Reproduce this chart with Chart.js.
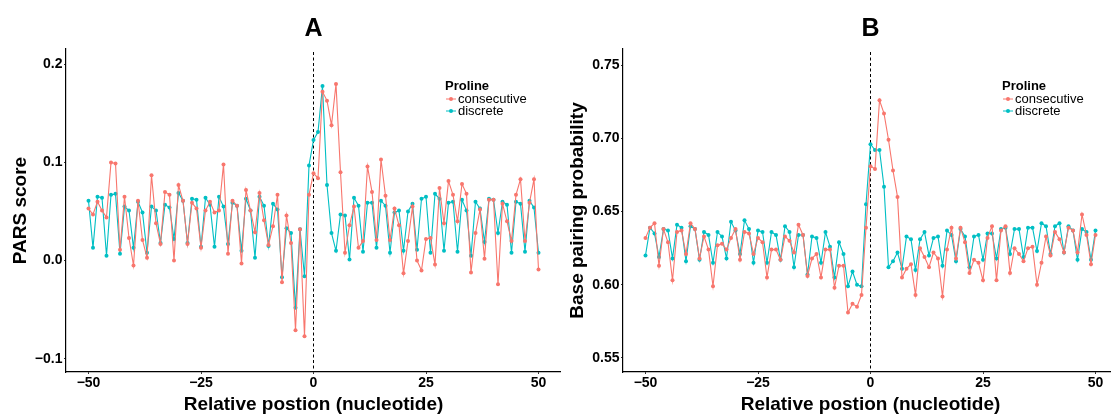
<!DOCTYPE html>
<html>
<head>
<meta charset="utf-8">
<script src="https://cdn.jsdelivr.net/npm/chart.js@4.4.1/dist/chart.umd.min.js"></script>
<style>
  html, body { margin: 0; padding: 0; background: #fff; width: 1111px; height: 414px; overflow: hidden; }
  .panel { position: absolute; top: 0; width: 561px; height: 414px; }
  #panelA { left: 0; }
  #panelB { left: 557px; }
</style>
</head>
<body>
<div class="panel" id="panelA"><canvas id="chartA" width="561" height="414"></canvas></div>
<div class="panel" id="panelB"><canvas id="chartB" width="561" height="414"></canvas></div>
<script>
// relative position of each nucleotide
const positions = [
  -50, -49, -48, -47, -46, -45, -44, -43, -42, -41, -40, -39, -38, -37, -36, -35, -34,
  -33, -32, -31, -30, -29, -28, -27, -26, -25, -24, -23, -22, -21, -20, -19, -18, -17,
  -16, -15, -14, -13, -12, -11, -10, -9, -8, -7, -6, -5, -4, -3, -2, -1,
  0, 1, 2, 3, 4, 5, 6, 7, 8, 9, 10, 11, 12, 13, 14, 15, 16, 17, 18, 19, 20, 21, 22, 23,
  24, 25, 26, 27, 28, 29, 30, 31, 32, 33, 34, 35, 36, 37, 38, 39, 40, 41, 42, 43, 44,
  45, 46, 47, 48, 49, 50
];

// A: PARS score
const parsConsecutive = [
  0.053, 0.047, 0.060, 0.051, 0.044, 0.100, 0.099, 0.011, 0.065, 0.023, -0.005, 0.061, 0.021,
  0.003, 0.087, 0.038, 0.017, 0.070, 0.067, 0.000, 0.077, 0.061, 0.017, 0.059, 0.053, 0.013,
  0.051, 0.060, 0.049, 0.051, 0.098, 0.007, 0.061, 0.056, -0.003, 0.072, 0.051, 0.029, 0.069,
  0.041, 0.016, 0.035, 0.067, -0.022, 0.046, 0.018, -0.071, 0.032, -0.077, 0.067,
  0.089, 0.084, 0.172, 0.163, 0.138, 0.180, 0.090, 0.008, 0.036, 0.055, 0.013, 0.020, 0.096,
  0.070, 0.021, 0.103, 0.066, 0.021, 0.053, 0.036, -0.013, 0.020, 0.055, 0.000, -0.010, 0.022,
  0.023, -0.004, 0.074, 0.038, 0.081, 0.067, 0.040, 0.078, 0.068, -0.012, 0.028, 0.052, 0.002,
  0.062, 0.062, -0.024, 0.058, 0.040, 0.020, 0.067, 0.083, 0.020, 0.059, 0.083, -0.009
];
const parsDiscrete = [
  0.061, 0.013, 0.065, 0.064, 0.005, 0.067, 0.068, 0.007, 0.055, 0.051, 0.013, 0.060, 0.049,
  0.008, 0.055, 0.051, 0.018, 0.057, 0.054, 0.022, 0.069, 0.061, 0.018, 0.063, 0.062, 0.014,
  0.064, 0.057, 0.014, 0.065, 0.055, 0.017, 0.059, 0.056, 0.010, 0.063, 0.051, 0.003, 0.065,
  0.056, 0.015, 0.058, 0.052, -0.017, 0.033, 0.028, -0.048, 0.032, -0.016, 0.097,
  0.123, 0.131, 0.178, 0.077, 0.028, 0.010, 0.047, 0.046, 0.001, 0.064, 0.056, 0.009, 0.059,
  0.059, 0.013, 0.061, 0.056, 0.008, 0.049, 0.051, 0.010, 0.050, 0.058, 0.011, 0.063, 0.065,
  0.008, 0.068, 0.063, 0.010, 0.059, 0.060, 0.009, 0.062, 0.051, 0.005, 0.060, 0.053, 0.019,
  0.063, 0.062, 0.028, 0.060, 0.057, 0.008, 0.060, 0.058, 0.009, 0.061, 0.054, 0.008
];

// B: base pairing probability
const bppConsecutive = [
  0.632, 0.639, 0.642, 0.613, 0.638, 0.629, 0.603, 0.636, 0.637, 0.621, 0.642, 0.638, 0.618,
  0.633, 0.624, 0.599, 0.627, 0.628, 0.624, 0.632, 0.638, 0.617, 0.636, 0.635, 0.621, 0.632,
  0.629, 0.605, 0.624, 0.624, 0.617, 0.633, 0.630, 0.622, 0.641, 0.634, 0.606, 0.618, 0.621,
  0.605, 0.624, 0.624, 0.598, 0.613, 0.613, 0.581, 0.587, 0.585, 0.593, 0.639,
  0.681, 0.679, 0.726, 0.717, 0.699, 0.678, 0.660, 0.605, 0.611, 0.614, 0.593, 0.625, 0.619,
  0.612, 0.622, 0.618, 0.592, 0.624, 0.639, 0.618, 0.639, 0.629, 0.608, 0.617, 0.615, 0.603,
  0.632, 0.640, 0.603, 0.637, 0.640, 0.608, 0.625, 0.621, 0.616, 0.625, 0.626, 0.600, 0.615,
  0.633, 0.620, 0.636, 0.631, 0.622, 0.639, 0.637, 0.622, 0.648, 0.634, 0.614, 0.634
];
const bppDiscrete = [
  0.620, 0.639, 0.635, 0.619, 0.638, 0.637, 0.618, 0.641, 0.639, 0.616, 0.640, 0.638, 0.617,
  0.636, 0.634, 0.615, 0.636, 0.633, 0.618, 0.643, 0.637, 0.621, 0.644, 0.638, 0.615, 0.637,
  0.636, 0.615, 0.636, 0.634, 0.617, 0.640, 0.636, 0.612, 0.634, 0.634, 0.607, 0.633, 0.632,
  0.615, 0.636, 0.626, 0.605, 0.629, 0.621, 0.599, 0.609, 0.600, 0.599, 0.655,
  0.696, 0.692, 0.692, 0.667, 0.612, 0.616, 0.622, 0.611, 0.633, 0.631, 0.610, 0.631, 0.636,
  0.620, 0.632, 0.633, 0.613, 0.637, 0.634, 0.616, 0.638, 0.633, 0.612, 0.633, 0.634, 0.617,
  0.635, 0.635, 0.618, 0.638, 0.639, 0.621, 0.638, 0.638, 0.619, 0.639, 0.639, 0.623, 0.642,
  0.640, 0.621, 0.640, 0.642, 0.622, 0.640, 0.637, 0.617, 0.638, 0.636, 0.617, 0.637
];

const seriesNames = ['consecutive', 'discrete'];
const seriesColors = ['#F8766D', '#00BFC4'];
const legendTitle = 'Proline';
const xTicks = [-50, -25, 0, 25, 50];
const xTitle = 'Relative postion (nucleotide)';
const refLine = 0;

const yTicksA = [-0.1, 0, 0.1, 0.2];
const yTickLabelsA = ['\u22120.1', '0.0', '0.1', '0.2'];
const yTicksB = [0.55, 0.60, 0.65, 0.70, 0.75];
const yTickLabelsB = ['0.55', '0.60', '0.65', '0.70', '0.75'];

const FONT = '"Liberation Sans", Arial, Helvetica, sans-serif';

// vertical dashed line, panel letter and legend
const extras = {
    id: 'extras',
    beforeDatasetsDraw(chart) {
        const ctx = chart.ctx, area = chart.chartArea;
        const x = chart.scales.x.getPixelForValue(refLine);
        ctx.save();
        ctx.strokeStyle = '#000';
        ctx.lineWidth = 1;
        ctx.setLineDash([3, 2.5]);
        ctx.beginPath();
        ctx.moveTo(x, area.top + 3);
        ctx.lineTo(x, area.bottom);
        ctx.stroke();
        ctx.restore();
    },
    afterDraw(chart, args, opts) {
        const ctx = chart.ctx, area = chart.chartArea;
        ctx.save();
        ctx.fillStyle = '#000';
        ctx.textAlign = 'center';
        ctx.textBaseline = 'middle';
        ctx.font = 'bold 25px ' + FONT;
        ctx.fillText(opts.letter, (area.left + area.right) / 2, 29);

        const lx = area.left + 379;
        ctx.textAlign = 'left';
        ctx.font = 'bold 13px ' + FONT;
        ctx.fillText(legendTitle, lx, 86);
        ctx.font = '13px ' + FONT;
        seriesNames.forEach((name, i) => {
            const y = 99 + i * 12;
            ctx.strokeStyle = seriesColors[i];
            ctx.fillStyle = seriesColors[i];
            ctx.lineWidth = 1;
            ctx.beginPath();
            ctx.moveTo(lx + 1, y);
            ctx.lineTo(lx + 11, y);
            ctx.stroke();
            ctx.beginPath();
            ctx.arc(lx + 6, y, 2, 0, Math.PI * 2);
            ctx.fill();
            ctx.fillStyle = '#000';
            ctx.fillText(name, lx + 13, y + 0.5);
        });
        ctx.restore();
    }
};

function makeChart(id, letter, yTitle, series, yMin, yMax, yTicks, yLabels) {
    const datasets = series.map((vals, i) => ({
        label: seriesNames[i],
        data: positions.map((p, j) => ({ x: p, y: vals[j] })),
        borderColor: seriesColors[i],
        backgroundColor: seriesColors[i],
        borderWidth: 1.1,
        pointRadius: 2,
        pointBorderWidth: 0,
        tension: 0
    }));
    return new Chart(document.getElementById(id), {
        type: 'line',
        data: { datasets: datasets },
        options: {
            responsive: false,
            animation: false,
            layout: { autoPadding: false, padding: { top: 49, left: 0, right: 0, bottom: 0 } },
            plugins: {
                legend: { display: false },
                tooltip: { enabled: false },
                extras: { letter: letter }
            },
            scales: {
                x: {
                    type: 'linear',
                    min: -55,
                    max: 55,
                    afterBuildTicks: s => { s.ticks = xTicks.map(v => ({ value: v })); },
                    afterFit: s => { s.height = 42; s.paddingLeft = 0; s.paddingRight = 0; },
                    grid: { drawOnChartArea: false, drawTicks: true, tickLength: 2, tickColor: '#333' },
                    border: { display: true, color: '#000', width: 1.2 },
                    ticks: {
                        color: '#000', padding: 0.5, maxRotation: 0,
                        font: { family: FONT, size: 14, weight: 'bold' },
                        callback: v => (v < 0 ? '\u2212' + Math.abs(v) : String(v))
                    },
                    title: {
                        display: true, text: xTitle, color: '#000',
                        font: { family: FONT, size: 19, weight: 'bold', lineHeight: 1.0 },
                        padding: { top: 0, bottom: 0 }
                    }
                },
                y: {
                    min: yMin,
                    max: yMax,
                    afterBuildTicks: s => { s.ticks = yTicks.map(v => ({ value: v })); },
                    afterFit: s => { s.width = 66; },
                    grid: { drawOnChartArea: false, drawTicks: true, tickLength: 2, tickColor: '#333' },
                    border: { display: true, color: '#000', width: 1.2 },
                    ticks: {
                        color: '#000', padding: 1.5,
                        font: { family: FONT, size: 14, weight: 'bold' },
                        callback: (v, i) => yLabels[i]
                    },
                    title: {
                        display: true, text: yTitle, color: '#000',
                        font: { family: FONT, size: 19, weight: 'bold' },
                        padding: { top: 9, bottom: 0 }
                    }
                }
            }
        },
        plugins: [extras]
    });
}

makeChart('chartA', 'A', 'PARS score', [parsConsecutive, parsDiscrete], -0.1135, 0.2156, yTicksA, yTickLabelsA);
makeChart('chartB', 'B', 'Base pairing probability', [bppConsecutive, bppDiscrete], 0.5404, 0.761, yTicksB, yTickLabelsB);
</script>
</body>
</html>
